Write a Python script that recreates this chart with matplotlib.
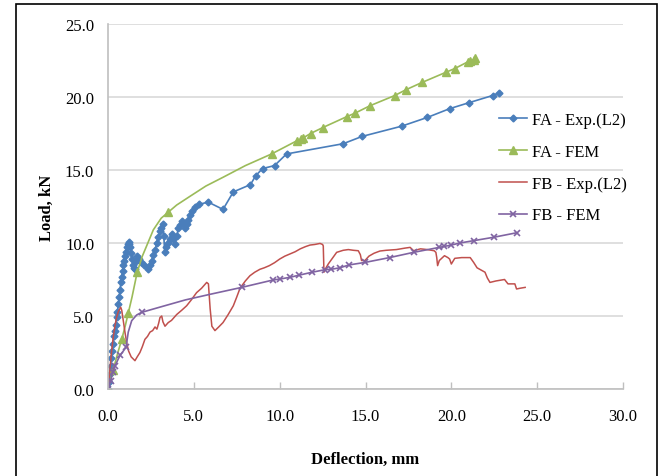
import numpy as np
import matplotlib
matplotlib.use('Agg')
import matplotlib.pyplot as plt
from matplotlib.patches import Rectangle

plt.rcParams['font.family'] = ['Liberation Serif', 'DejaVu Serif']

# FA - Exp.(L2)
fa_exp_x = [0, 0.05, 0.1, 0.15, 0.2, 0.25, 0.3, 0.35, 0.4, 0.45, 0.5, 0.55, 0.6, 0.65, 0.7, 0.75,
            0.8, 0.85, 0.9, 0.95, 1.0, 1.05, 1.1, 1.15, 1.2, 1.25, 1.3, 1.35, 1.4, 1.45, 1.5, 1.57,
            1.65, 1.7, 1.8, 1.9, 2.1, 2.35, 2.45, 2.55, 2.65, 2.75, 2.83, 2.93, 3.03, 3.1, 3.18,
            3.25, 3.3, 3.4, 3.5, 3.6, 3.7, 3.8, 3.9, 4.0, 4.1, 4.2, 4.3, 4.4, 4.5, 4.6, 4.68, 4.8,
            4.9, 5.07, 5.3, 5.84, 6.7, 7.3, 8.3, 8.6, 9.0, 9.7, 10.4, 13.7, 14.8, 17.1, 18.6, 19.9,
            21.0, 22.4, 22.8]
fa_exp_y = [0, 0.5, 1.0, 1.6, 2.1, 2.6, 3.1, 3.6, 4.0, 4.4, 4.9, 5.3, 5.8, 6.3, 6.8, 7.3,
            7.7, 8.1, 8.5, 8.8, 9.1, 9.4, 9.7, 9.9, 10.1, 9.9, 9.7, 9.3, 8.9, 8.5, 8.3, 8.2,
            8.8, 9.1, 8.9, 8.7, 8.5, 8.2, 8.5, 8.8, 9.2, 9.5, 10.0, 10.4, 10.8, 11.0, 11.3,
            10.5, 9.4, 9.7, 10.0, 10.3, 10.6, 10.3, 9.9, 10.5, 11.0, 11.2, 11.5, 11.3, 11.0, 11.3,
            11.6, 11.9, 12.2, 12.5, 12.65, 12.8, 12.3, 13.5, 14.0, 14.6, 15.1, 15.3, 16.1, 16.8,
            17.3, 18.0, 18.6, 19.2, 19.6, 20.1, 20.3]

# FA - FEM
fa_fem_x = [0, 0.3, 0.6, 0.8, 1.0, 1.18, 1.4, 1.7, 2.0, 2.25, 2.64, 3.1, 3.5, 4.0, 4.78, 5.7,
            6.7, 8.0, 9.53, 11.0, 11.24, 11.37, 11.8, 12.5, 13.9, 14.4, 15.26, 16.7, 17.36, 18.3,
            19.7, 20.2, 20.95, 21.1, 21.3, 21.4]
fa_fem_y = [0, 1.3, 2.6, 3.4, 4.3, 5.2, 6.3, 8.0, 9.1, 9.8, 10.9, 11.7, 12.1, 12.6, 13.2, 13.9,
            14.5, 15.3, 16.1, 17.0, 17.1, 17.2, 17.5, 17.9, 18.65, 18.9, 19.4, 20.1, 20.5, 21.0,
            21.7, 21.95, 22.4, 22.5, 22.55, 22.65]
fa_fem_marks = [0, 1, 3, 5, 7, 12, 18] + list(range(19, 36))

# FB - Exp.(L2)
fb_exp_x = [0, 0.1, 0.2, 0.3, 0.4, 0.5, 0.6, 0.74, 0.8, 0.9, 1.0, 1.1, 1.2, 1.35, 1.57, 1.7,
            1.86, 2.0, 2.15, 2.3, 2.45, 2.6, 2.74, 2.85, 2.95, 3.03, 3.13, 3.2, 3.32, 3.51, 3.7,
            3.85, 4.0, 4.3, 4.58, 4.85, 5.16, 5.45, 5.75, 5.85, 5.95, 6.05, 6.23, 6.45, 6.7, 7.0,
            7.3, 7.5, 7.69, 8.0, 8.27, 8.55, 8.85, 9.1, 9.4, 9.7, 10.0, 10.3, 10.6, 10.9, 11.2,
            11.5, 11.77, 12.05, 12.35, 12.5, 12.54, 12.58, 12.7, 12.83, 13.1, 13.32, 13.7, 14.0,
            14.3, 14.58, 14.7, 14.77, 14.97, 15.2, 15.5, 15.84, 16.2, 16.8, 17.3, 17.6, 17.8,
            18.2, 18.6, 19.0, 19.1, 19.15, 19.2, 19.3, 19.6, 19.8, 19.9, 20.0, 20.2, 20.6, 21.1,
            21.3, 21.5, 21.96, 22.1, 22.25, 22.6, 23.1, 23.3, 23.7, 23.8, 24.0, 24.3]
fb_exp_y = [0, 1.2, 2.5, 3.5, 4.3, 4.9, 5.3, 5.6, 5.4, 4.6, 3.8, 3.1, 2.6, 2.2, 1.94, 2.2,
            2.5, 2.9, 3.4, 3.6, 3.9, 4.0, 4.25, 4.1, 4.5, 4.9, 5.0, 4.6, 4.3, 4.55, 4.7,
            4.9, 5.1, 5.4, 5.7, 6.1, 6.6, 6.9, 7.3, 7.2, 5.5, 4.3, 4.0, 4.25, 4.55, 5.1,
            5.7, 6.3, 6.9, 7.4, 7.76, 8.0, 8.2, 8.3, 8.45, 8.65, 8.9, 9.1, 9.25, 9.4, 9.6,
            9.75, 9.86, 9.9, 9.97, 9.9, 9.8, 8.0, 8.3, 8.56, 9.0, 9.36, 9.5, 9.55,
            9.5, 9.47, 9.2, 8.8, 8.8, 9.1, 9.3, 9.45, 9.5, 9.55, 9.65, 9.7, 9.47,
            9.6, 9.55, 9.47, 9.36, 9.0, 8.45, 8.8, 9.13, 9.0, 8.9, 8.56, 8.95, 9.0, 9.0,
            8.67, 8.3, 8.0, 7.6, 7.3, 7.4, 7.5, 7.2, 7.2, 6.85, 6.9, 6.96]

# FB - FEM
fb_fem_x = [0, 0.16, 0.27, 0.41, 0.7, 1.05, 1.18, 1.38, 1.67, 1.96, 3.0, 4.5, 6.0, 7.79, 9.63,
            10.0, 10.6, 11.14, 11.9, 12.64, 13.0, 13.5, 14.05, 14.97, 16.4, 17.8, 19.3, 19.6,
            20.0, 20.5, 21.3, 22.5, 23.8]
fb_fem_y = [0, 0.57, 1.16, 1.6, 2.3, 2.85, 3.9, 4.68, 5.07, 5.25, 5.6, 6.1, 6.5, 6.96, 7.47,
            7.53, 7.65, 7.8, 8.0, 8.17, 8.2, 8.3, 8.5, 8.67, 9.0, 9.36, 9.7, 9.77,
            9.86, 10.0, 10.16, 10.4, 10.7]
fb_fem_marks = [0, 1, 2, 3, 4, 5, 9] + list(range(13, 33))

fig = plt.figure(figsize=(6.64, 4.77), dpi=100)
ax = fig.add_axes([108 / 664, 1 - 390 / 477, 515 / 664, 365 / 477])

ax.plot(fa_exp_x, fa_exp_y, color='#4A7EBB', lw=1.2, marker='D', ms=3.5, label='FA - Exp.(L2)')
ax.plot(fa_fem_x, fa_fem_y, color='#9BBB59', lw=1.2, marker='^', ms=5.5,
        markevery=fa_fem_marks, label='FA - FEM')
ax.plot(fb_exp_x, fb_exp_y, color='#C0504D', lw=1.1, label='FB - Exp.(L2)')
ax.plot(fb_fem_x, fb_fem_y, color='#8064A2', lw=1.2, marker='x', ms=4.5, mew=1.2,
        markevery=fb_fem_marks, label='FB - FEM')

ax.set_xlim(0, 30)
ax.set_ylim(0, 25)
ax.set_xticks(np.arange(0, 31, 5))
ax.set_yticks(np.arange(0, 26, 5))
ax.set_xticklabels(['%.1f' % v for v in np.arange(0, 31, 5)])
ax.set_yticklabels(['%.1f' % v for v in np.arange(0, 26, 5)])
ax.tick_params(axis='x', direction='in', length=5, width=1, color='#BFBFBF', pad=14, labelsize=12)
ax.tick_params(axis='y', length=0, pad=10, labelsize=12)

ax.grid(axis='y', color='#D9D9D9', lw=1.2)
ax.set_axisbelow(True)
for s in ['top', 'right']:
    ax.spines[s].set_visible(False)
for s in ['left', 'bottom']:
    ax.spines[s].set_color('#BFBFBF')
    ax.spines[s].set_linewidth(1.2)

ax.set_xlabel('Deflection, mm', fontsize=12, fontweight='bold', labelpad=19)
ax.set_ylabel('Load, kN', fontsize=12, fontweight='bold', labelpad=7)

ax.legend(loc='upper left', bbox_to_anchor=(0.73, 0.8), frameon=False, fontsize=12,
          handlelength=1.7, handletextpad=0.3, labelspacing=0.95)

fig.patches.append(Rectangle((16 / 664, -0.1), (657 - 16) / 664, 1.1 - 5 / 477,
                             transform=fig.transFigure, fill=False, ec='black', lw=1.2))

fig.savefig('out.png', dpi=100)
